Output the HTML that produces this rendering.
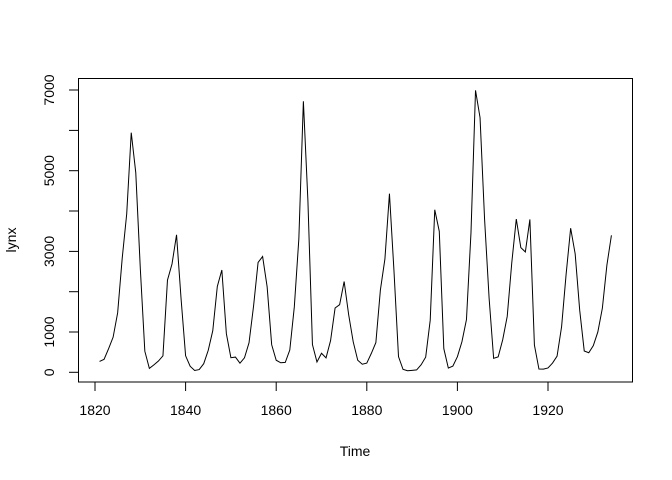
<!DOCTYPE html>
<html><head><meta charset="utf-8"><style>body{margin:0;background:#fff}svg{display:block}text{font-family:"Liberation Sans",Arial,sans-serif;font-size:14px;fill:#000}</style></head>
<body>
<svg width="672" height="480" viewBox="0 0 672 480" xmlns="http://www.w3.org/2000/svg">
<rect x="78.5" y="78.5" width="554" height="303.5" fill="none" stroke="#000" stroke-width="1"/>
<g stroke="#000" stroke-width="1">
<line x1="95" y1="382" x2="548" y2="382"/>
<line x1="95" y1="382" x2="95" y2="391"/><line x1="185.6" y1="382" x2="185.6" y2="391"/><line x1="276.2" y1="382" x2="276.2" y2="391"/><line x1="366.8" y1="382" x2="366.8" y2="391"/><line x1="457.4" y1="382" x2="457.4" y2="391"/><line x1="548" y1="382" x2="548" y2="391"/>
<line x1="78.5" y1="372.3" x2="78.5" y2="90"/>
<line x1="78.5" y1="372.3" x2="69" y2="372.3"/><line x1="78.5" y1="332" x2="69" y2="332"/><line x1="78.5" y1="291.7" x2="69" y2="291.7"/><line x1="78.5" y1="251.4" x2="69" y2="251.4"/><line x1="78.5" y1="211" x2="69" y2="211"/><line x1="78.5" y1="170.7" x2="69" y2="170.7"/><line x1="78.5" y1="130.4" x2="69" y2="130.4"/><line x1="78.5" y1="90" x2="69" y2="90"/>
</g>
<g text-anchor="middle">
<text x="95" y="415">1820</text><text x="185.6" y="415">1840</text><text x="276.2" y="415">1860</text><text x="366.8" y="415">1880</text><text x="457.4" y="415">1900</text><text x="548" y="415">1920</text>
<text x="355" y="456">Time</text>
<text transform="translate(54,372.3) rotate(-90)">0</text>
<text transform="translate(54,332) rotate(-90)">1000</text>
<text transform="translate(54,251.4) rotate(-90)">3000</text>
<text transform="translate(54,170.7) rotate(-90)">5000</text>
<text transform="translate(54,90) rotate(-90)">7000</text>
<text transform="translate(16,240) rotate(-90)">lynx</text>
</g>
<polyline transform="translate(95,372.3) scale(4.53,-0.04033)" vector-effect="non-scaling-stroke" fill="none" stroke="#000" stroke-width="1" points="1,269 2,321 3,585 4,871 5,1475 6,2821 7,3928 8,5943 9,4950 10,2577 11,523 12,98 13,184 14,279 15,409 16,2285 17,2685 18,3409 19,1824 20,409 21,151 22,45 23,68 24,213 25,546 26,1033 27,2129 28,2536 29,957 30,361 31,377 32,225 33,360 34,731 35,1638 36,2725 37,2871 38,2119 39,684 40,299 41,236 42,245 43,552 44,1623 45,3311 46,6721 47,4254 48,687 49,255 50,473 51,358 52,784 53,1594 54,1676 55,2251 56,1426 57,756 58,299 59,201 60,229 61,469 62,736 63,2042 64,2811 65,4431 66,2511 67,389 68,73 69,39 70,49 71,59 72,188 73,377 74,1292 75,4031 76,3495 77,587 78,105 79,153 80,387 81,758 82,1307 83,3465 84,6991 85,6313 86,3794 87,1836 88,345 89,382 90,808 91,1388 92,2713 93,3800 94,3091 95,2985 96,3790 97,674 98,81 99,80 100,108 101,229 102,399 103,1132 104,2432 105,3574 106,2935 107,1537 108,529 109,485 110,662 111,1000 112,1590 113,2657 114,3396"/>
</svg>
</body></html>
